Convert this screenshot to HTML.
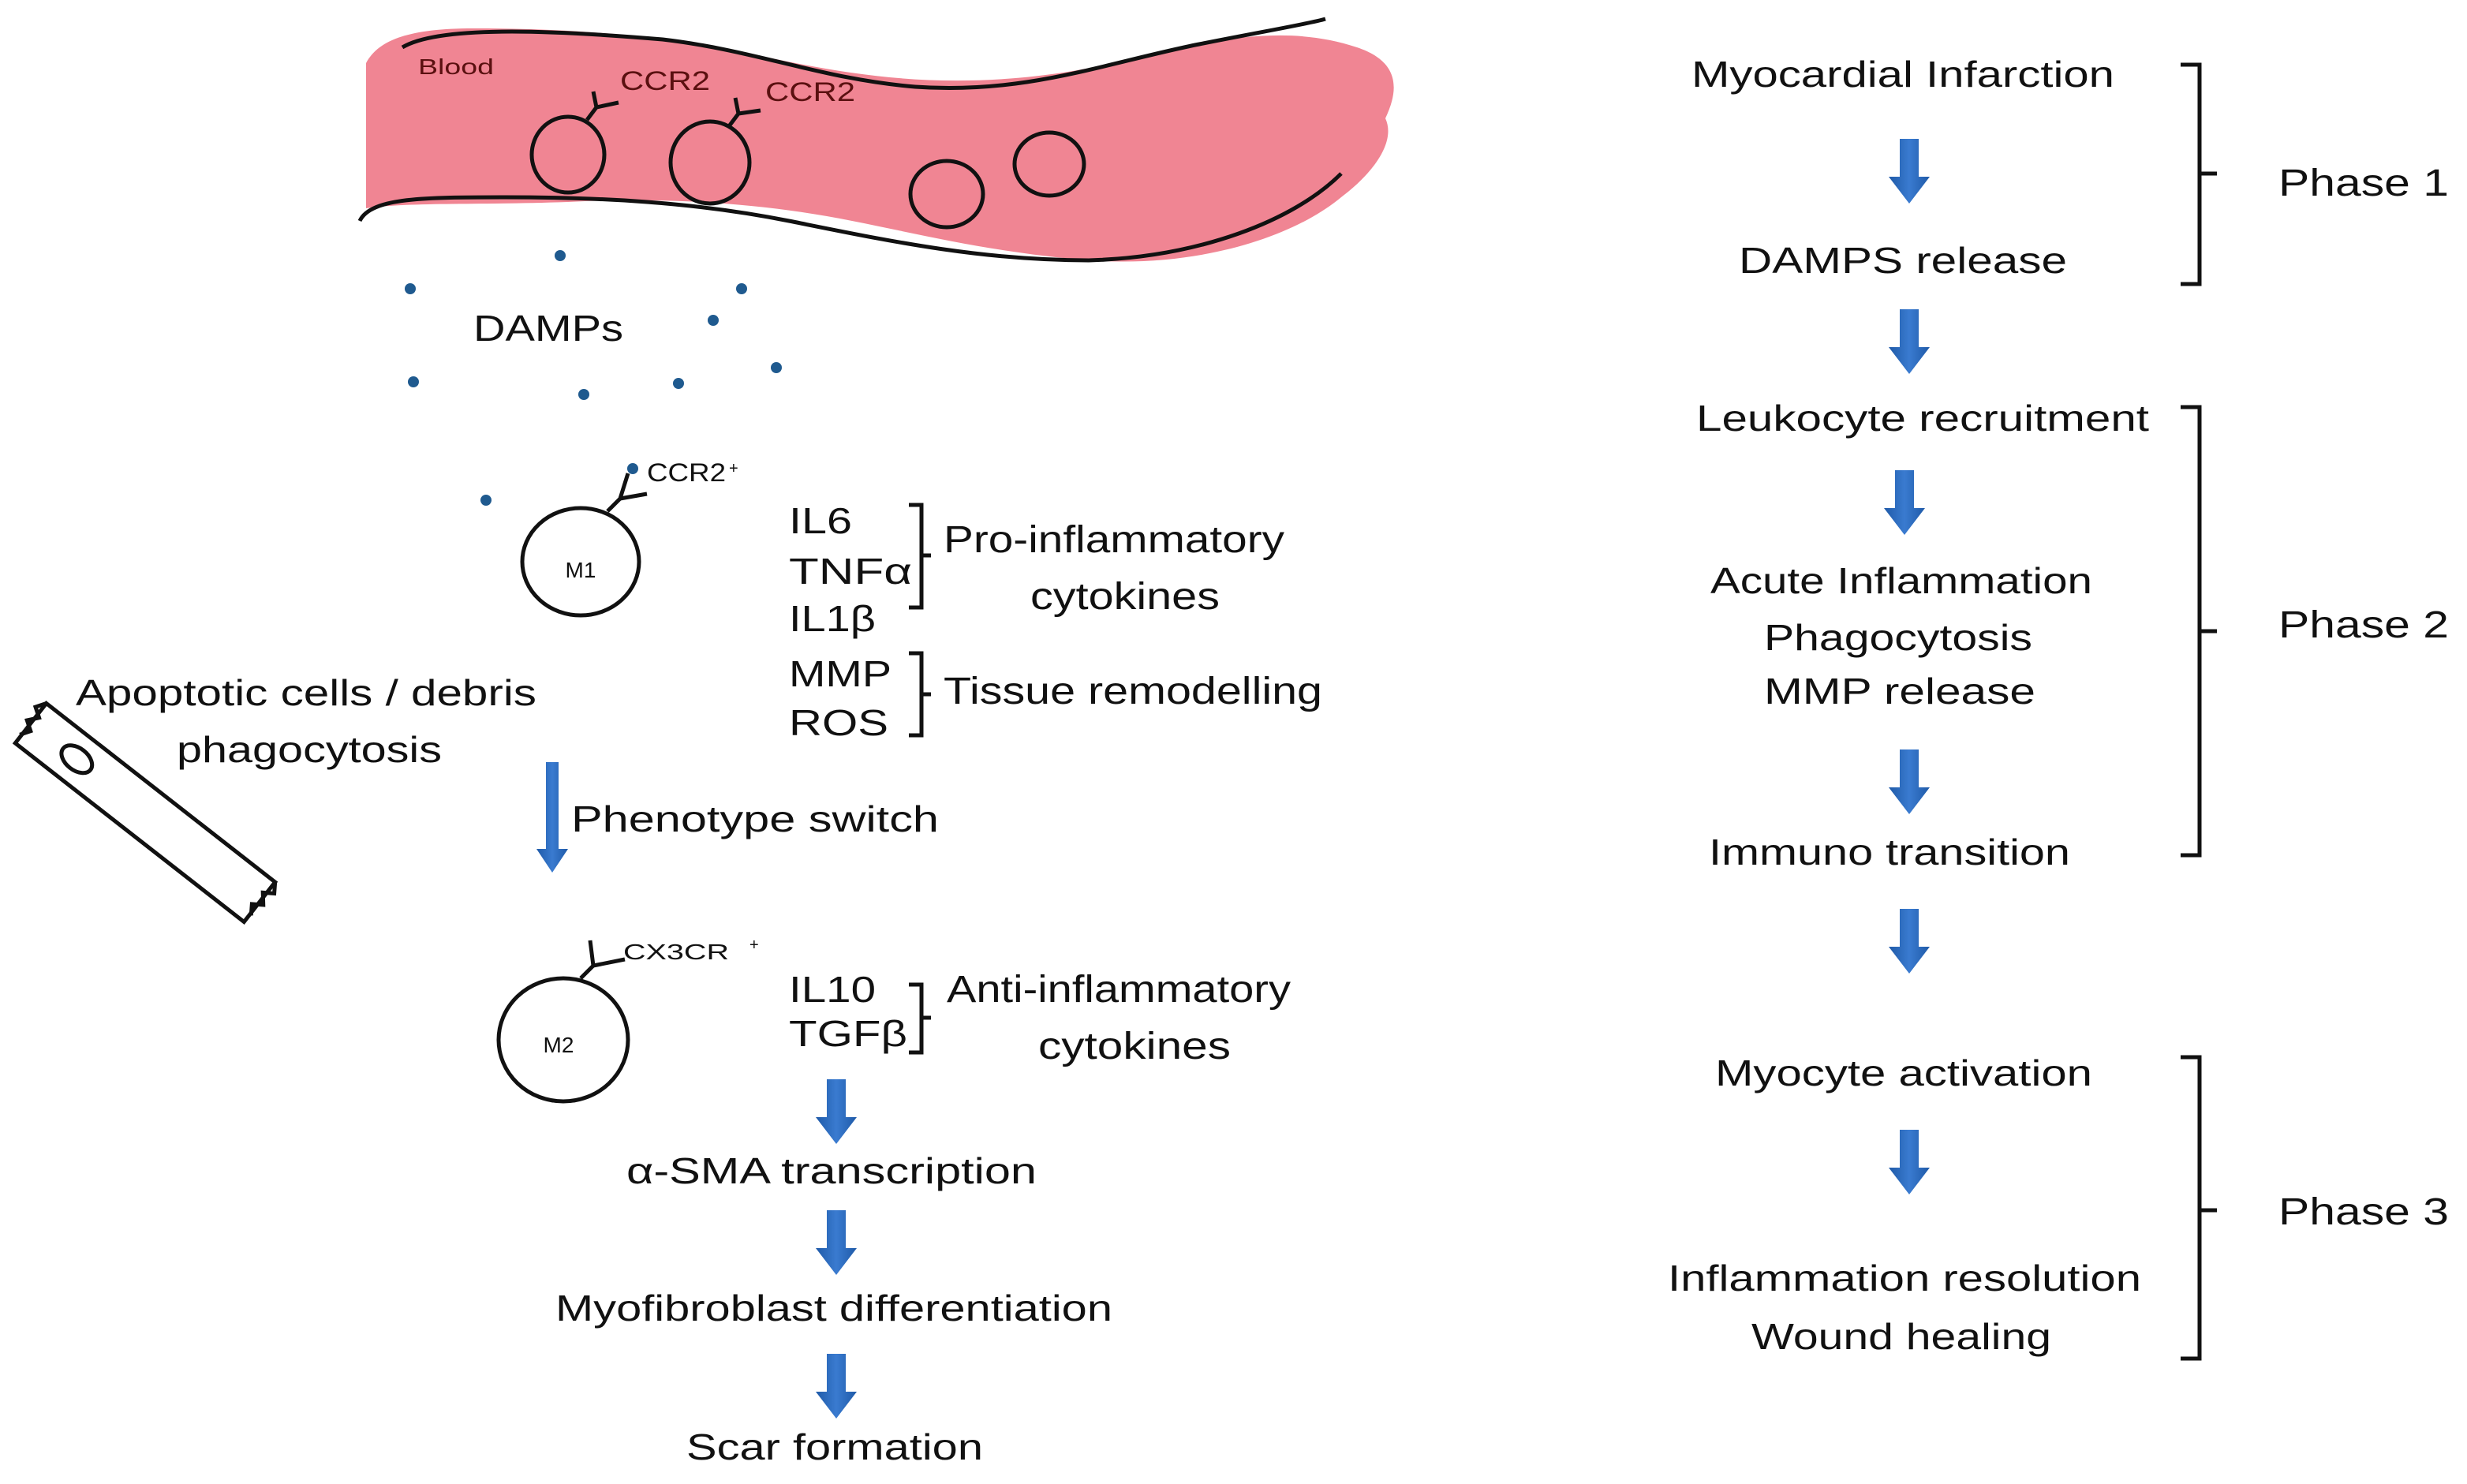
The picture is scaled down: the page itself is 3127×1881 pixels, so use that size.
<!DOCTYPE html>
<html><head><meta charset="utf-8"><style>
html,body{margin:0;padding:0;background:#fff}
svg{display:block}
text{font-family:"Liberation Sans",Arial,sans-serif;fill:#111}
</style></head><body>
<svg width="3127" height="1881" viewBox="0 0 1563.5 940.5" xmlns="http://www.w3.org/2000/svg">
<defs>
<linearGradient id="bg" x1="0" x2="1" y1="0" y2="0"><stop offset="0" stop-color="#1f5aa8"/><stop offset="0.5" stop-color="#3a7bd0"/><stop offset="1" stop-color="#1f5aa8"/></linearGradient>
<g id="arr"><path d="M-6,0 H6 V24 H13 L0,41 L-13,24 H-6 Z" fill="url(#bg)"/></g>
</defs>
<!-- vessel -->
<path d="M232,40 C240,25 260,18 300,18 C360,18 420,22 480,35 C540,48 600,58 680,45 C740,35 800,10 860,30 C890,40 885,60 878,75 C885,90 870,110 850,125 C820,150 760,170 690,165 C630,160 590,150 540,140 C480,128 420,125 360,128 C300,130 260,128 232,132 Z" fill="#f08593"/>
<path d="M255,30 C280,15 360,20 420,25 C480,32 520,50 580,55 C650,60 700,40 760,28 C800,20 830,15 840,12" fill="none" stroke="#111" stroke-width="2.5"/>
<path d="M228,140 C235,125 270,125 320,125 C380,125 440,128 500,140 C560,152 620,165 690,165 C760,163 820,140 850,110" fill="none" stroke="#111" stroke-width="2.5"/>
<text x="265" y="47" font-size="14" style="fill:#5a1010" textLength="48" lengthAdjust="spacingAndGlyphs">Blood</text>
<text x="393" y="57" font-size="17" style="fill:#5a1010" textLength="57" lengthAdjust="spacingAndGlyphs">CCR2</text>
<text x="485" y="64" font-size="17" style="fill:#5a1010" textLength="57" lengthAdjust="spacingAndGlyphs">CCR2</text>
<g fill="none" stroke="#111" stroke-width="2.5">
<ellipse cx="360" cy="98" rx="23" ry="24"/>
<ellipse cx="450" cy="103" rx="25" ry="26"/>
<ellipse cx="600" cy="123" rx="23" ry="21"/>
<ellipse cx="665" cy="104" rx="22" ry="20"/>
<path d="M372,76 L378,68 L376,58 M378,68 L392,65"/>
<path d="M462,80 L468,72 L466,62 M468,72 L482,70"/>
</g>
<!-- DAMPs -->
<g fill="#1f5a8f">
<circle cx="355" cy="162" r="3.5"/><circle cx="260" cy="183" r="3.5"/><circle cx="470" cy="183" r="3.5"/>
<circle cx="452" cy="203" r="3.5"/><circle cx="262" cy="242" r="3.5"/><circle cx="370" cy="250" r="3.5"/>
<circle cx="430" cy="243" r="3.5"/><circle cx="492" cy="233" r="3.5"/><circle cx="308" cy="317" r="3.5"/>
<circle cx="401" cy="297" r="3.5"/>
</g>
<text x="300" y="216" font-size="23" textLength="95" lengthAdjust="spacingAndGlyphs">DAMPs</text>
<!-- M1 -->
<g fill="none" stroke="#111" stroke-width="2.5">
<ellipse cx="368" cy="356" rx="37" ry="34"/>
<path d="M385,324 L393,316 L398,300 M393,316 L410,313"/>
</g>
<text x="368" y="366" font-size="14" text-anchor="middle">M1</text>
<text x="410" y="305" font-size="16" textLength="50" lengthAdjust="spacingAndGlyphs">CCR2</text><text x="462" y="300" font-size="10">+</text>
<text x="500" y="338" font-size="23" textLength="40" lengthAdjust="spacingAndGlyphs">IL6</text>
<text x="500" y="370" font-size="23" textLength="78" lengthAdjust="spacingAndGlyphs">TNFα</text>
<text x="500" y="400" font-size="23" textLength="55" lengthAdjust="spacingAndGlyphs">IL1β</text>
<path d="M576,320 H584 V385 H576 M584,352 H590" fill="none" stroke="#111" stroke-width="2.5"/>
<text x="598" y="350" font-size="24" textLength="216" lengthAdjust="spacingAndGlyphs">Pro-inflammatory</text>
<text x="653" y="386" font-size="24" textLength="120" lengthAdjust="spacingAndGlyphs">cytokines</text>
<text x="500" y="435" font-size="23" textLength="65" lengthAdjust="spacingAndGlyphs">MMP</text>
<text x="500" y="466" font-size="23" textLength="63" lengthAdjust="spacingAndGlyphs">ROS</text>
<path d="M576,414 H584 V466 H576 M584,440 H590" fill="none" stroke="#111" stroke-width="2.5"/>
<text x="598" y="446" font-size="24" textLength="240" lengthAdjust="spacingAndGlyphs">Tissue remodelling</text>
<!-- apoptotic cell -->
<g transform="translate(92,515) rotate(38)" fill="none" stroke="#111" stroke-width="2.5">
<rect x="-92" y="-16" width="184" height="32" fill="#fff"/>
<ellipse cx="-55" cy="0" rx="11" ry="7"/>
<path d="M-92,-16 l-4,6 l6,4 l-5,6 l6,4 l-4,6 M92,-16 l4,6 l-6,4 l5,6 l-6,4 l4,6"/>
</g>
<text x="48" y="447" font-size="23" textLength="292" lengthAdjust="spacingAndGlyphs">Apoptotic  cells / debris</text>
<text x="112" y="483" font-size="23" textLength="168" lengthAdjust="spacingAndGlyphs">phagocytosis</text>
<!-- phenotype arrow -->
<path d="M346,483 H354 V538 H360 L350,553 L340,538 H346 Z" fill="url(#bg)"/>
<text x="362" y="527" font-size="23" textLength="233" lengthAdjust="spacingAndGlyphs">Phenotype  switch</text>
<!-- M2 -->
<g fill="none" stroke="#111" stroke-width="2.5">
<ellipse cx="357" cy="659" rx="41" ry="39"/>
<path d="M368,620 L376,612 L374,596 M376,612 L396,608"/>
</g>
<text x="354" y="667" font-size="14" text-anchor="middle">M2</text>
<text x="395" y="608" font-size="14" textLength="67" lengthAdjust="spacingAndGlyphs">CX3CR</text><text x="475" y="602" font-size="10">+</text>
<text x="500" y="635" font-size="23" textLength="55" lengthAdjust="spacingAndGlyphs">IL10</text>
<text x="500" y="663" font-size="23" textLength="75" lengthAdjust="spacingAndGlyphs">TGFβ</text>
<path d="M576,624 H584 V667 H576 M584,645 H590" fill="none" stroke="#111" stroke-width="2.5"/>
<text x="600" y="635" font-size="24" textLength="218" lengthAdjust="spacingAndGlyphs">Anti-inflammatory</text>
<text x="658" y="671" font-size="24" textLength="122" lengthAdjust="spacingAndGlyphs">cytokines</text>
<use href="#arr" x="530" y="684"/>
<text x="397" y="750" font-size="23" textLength="260" lengthAdjust="spacingAndGlyphs">α-SMA transcription</text>
<use href="#arr" x="530" y="767"/>
<text x="352" y="837" font-size="23" textLength="353" lengthAdjust="spacingAndGlyphs">Myofibroblast  differentiation</text>
<use href="#arr" x="530" y="858"/>
<text x="435" y="925" font-size="23" textLength="188" lengthAdjust="spacingAndGlyphs">Scar formation</text>
<!-- right side -->
<text x="1072" y="55" font-size="23" textLength="268" lengthAdjust="spacingAndGlyphs">Myocardial Infarction</text>
<use href="#arr" x="1210" y="88"/>
<text x="1102" y="173" font-size="23" textLength="208" lengthAdjust="spacingAndGlyphs">DAMPS  release</text>
<use href="#arr" x="1210" y="196"/>
<text x="1075" y="273" font-size="23" textLength="287" lengthAdjust="spacingAndGlyphs">Leukocyte recruitment</text>
<use href="#arr" x="1207" y="298"/>
<text x="1084" y="376" font-size="23" textLength="242" lengthAdjust="spacingAndGlyphs">Acute Inflammation</text>
<text x="1118" y="412" font-size="23" textLength="170" lengthAdjust="spacingAndGlyphs">Phagocytosis</text>
<text x="1118" y="446" font-size="23" textLength="172" lengthAdjust="spacingAndGlyphs">MMP release</text>
<use href="#arr" x="1210" y="475"/>
<text x="1083" y="548" font-size="23" textLength="229" lengthAdjust="spacingAndGlyphs">Immuno  transition</text>
<use href="#arr" x="1210" y="576"/>
<text x="1087" y="688" font-size="23" textLength="239" lengthAdjust="spacingAndGlyphs">Myocyte activation</text>
<use href="#arr" x="1210" y="716"/>
<text x="1057" y="818" font-size="23" textLength="300" lengthAdjust="spacingAndGlyphs">Inflammation  resolution</text>
<text x="1110" y="855" font-size="23" textLength="190" lengthAdjust="spacingAndGlyphs">Wound  healing</text>
<g fill="none" stroke="#111" stroke-width="2.5">
<path d="M1382,41 H1394 V180 H1382 M1394,110 H1405"/>
<path d="M1382,258 H1394 V542 H1382 M1394,400 H1405"/>
<path d="M1382,670 H1394 V861 H1382 M1394,767 H1405"/>
</g>
<text x="1444" y="124" font-size="24" textLength="108" lengthAdjust="spacingAndGlyphs">Phase  1</text>
<text x="1444" y="404" font-size="24" textLength="108" lengthAdjust="spacingAndGlyphs">Phase  2</text>
<text x="1444" y="776" font-size="24" textLength="108" lengthAdjust="spacingAndGlyphs">Phase  3</text>
</svg>
</body></html>
